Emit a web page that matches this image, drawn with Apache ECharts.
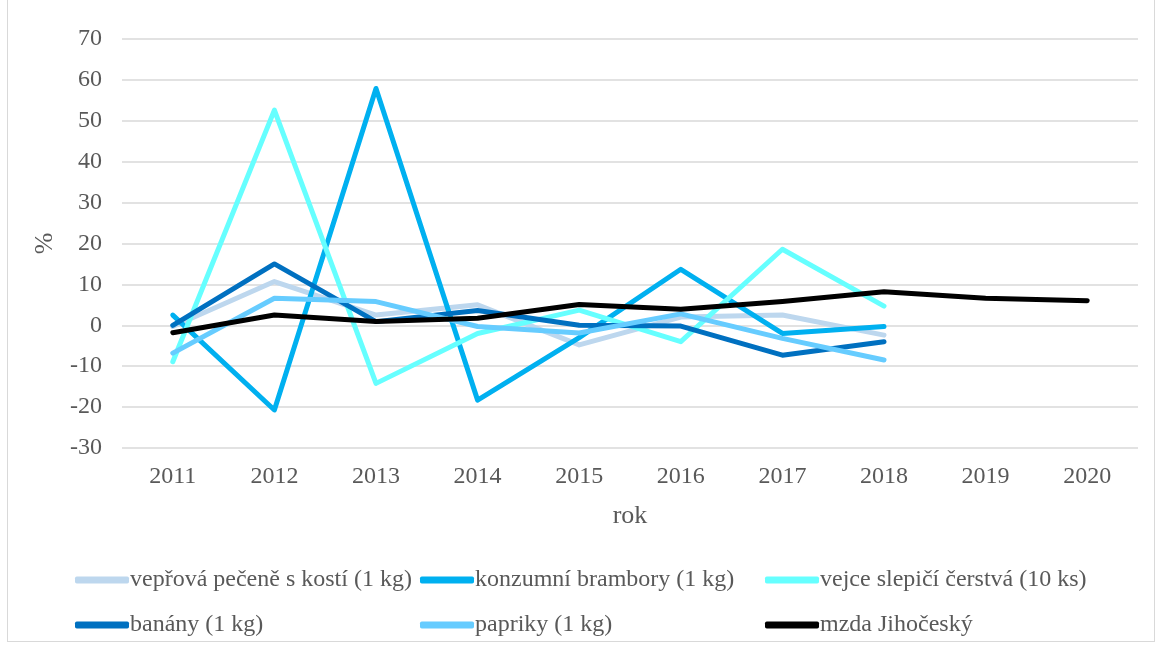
<!DOCTYPE html>
<html><head><meta charset="utf-8">
<script src="https://cdn.jsdelivr.net/npm/echarts@6/dist/echarts.min.js"></script>
<style>html,body{margin:0;padding:0;background:#fff}#c{width:1155px;height:650px}
#b{position:absolute;left:7px;top:-2px;width:1146px;height:642px;border:1px solid #D9D9D9;pointer-events:none}</style>
</head><body><div id="c"></div><div id="b"></div>
<script>
const years = ['2011','2012','2013','2014','2015','2016','2017','2018','2019','2020'];
const yTicks = {min:-30, max:70, interval:10};
const names = ['vepřová pečeně s kostí (1 kg)','konzumní brambory (1 kg)','vejce slepičí čerstvá (10 ks)','banány (1 kg)','papriky (1 kg)','mzda Jihočeský'];
const pork     = [-0.3, 10.7, 2.5, 5.0, -4.8, 2.0, 2.5, -2.4, null, null];
const potatoes = [2.5, -20.7, 57.9, -18.3, -3.0, 13.7, -2.0, -0.3, null, null];
const eggs     = [-8.9, 52.6, -14.2, -2.0, 3.7, -4.0, 18.6, 4.7, null, null];
const bananas  = [0.0, 15.0, 0.9, 3.6, 0.0, -0.2, -7.3, -4.0, null, null];
const peppers  = [-6.8, 6.6, 5.8, -0.3, -1.9, 2.8, -3.2, -8.5, null, null];
const wage     = [-1.8, 2.5, 0.9, 1.7, 5.1, 3.9, 5.8, 8.2, 6.6, 6.0];
const colors = ['#BDD7EE','#00B0F0','#66FFFF','#0070C0','#66CCFF','#000000'];
const dataSets = [pork, potatoes, eggs, bananas, peppers, wage];

const font = 'Liberation Serif';
const txt = '#595959';
const chart = echarts.init(document.getElementById('c'));
const legendBase = {orient:'vertical', top:567, padding:0, itemGap:19, itemWidth:54, itemHeight:7, icon:'roundRect',
  textStyle:{fontFamily:font, fontSize:24, lineHeight:26, color:txt, padding:[0,0,0,-4]}};
chart.setOption({
  animation:false,
  color: colors,
  grid:{left:122, right:17, top:39, bottom:202},
  legend:[
    Object.assign({left:75, data:[names[0],names[3]]}, legendBase),
    Object.assign({left:420, data:[names[1],names[4]]}, legendBase),
    Object.assign({left:765, data:[names[2],names[5]]}, legendBase)
  ],
  xAxis:{type:'category', data:years, boundaryGap:true, name:'rok', nameLocation:'middle', nameGap:55,
    nameTextStyle:{fontFamily:font, fontSize:26, color:txt},
    axisLine:{show:false}, axisTick:{show:false},
    axisLabel:{fontFamily:font, fontSize:24, color:txt, margin:17}},
  yAxis:{type:'value', min:yTicks.min, max:yTicks.max, interval:yTicks.interval, name:'%', nameLocation:'middle', nameGap:64, nameRotate:90,
    nameTextStyle:{fontFamily:font, fontSize:26, color:txt},
    axisLine:{show:false}, axisTick:{show:false},
    axisLabel:{fontFamily:font, fontSize:24, color:txt, margin:20},
    splitLine:{lineStyle:{color:'#D9D9D9', width:1.5}}},
  series: dataSets.map((d,i)=>({name:names[i], type:'line', data:d, symbol:'none', connectNulls:false,
    lineStyle:{width:5, color:colors[i], cap:'round', join:'round'}, itemStyle:{color:colors[i]}}))
});
</script></body></html>
